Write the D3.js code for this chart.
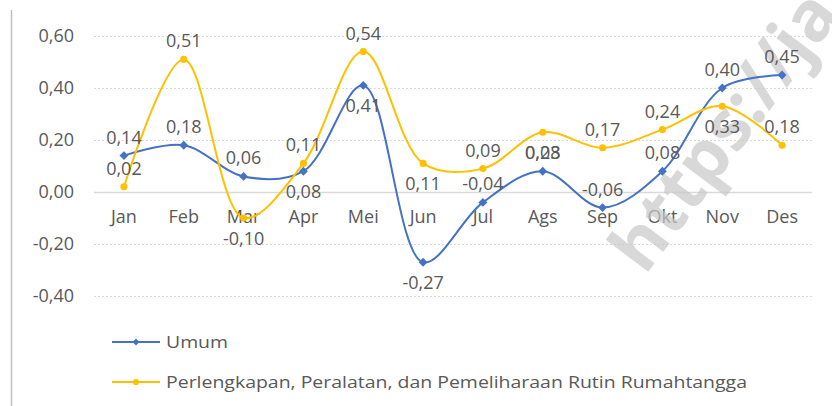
<!DOCTYPE html>
<html>
<head>
  <meta charset="utf-8">
  <title>Inflasi Bulanan</title>
<style type="text/css">
body {
  margin: 0;
  background: #fff;
  font-family: "Open Sans", sans-serif;
}

.axis text,
.label {
  font-size: 18px;
  fill: #595959;
}

.grid line {
  stroke: #d9d9d9;
  stroke-width: 1px;
  stroke-dasharray: 2,2;
}

.legend text {
  font-size: 17px;
  fill: #595959;
}

.watermark {
  font-family: "Open Sans", sans-serif;
  font-weight: bold;
  font-size: 70px;
  fill: #c8c8c8;
  fill-opacity: 0.7;
}
</style>
</head>
<body>
<script src="https://cdn.jsdelivr.net/npm/d3@7"></script>
<script>
var months = ["Jan", "Feb", "Mar", "Apr", "Mei", "Jun", "Jul", "Ags", "Sep", "Okt", "Nov", "Des"];
var umum = [0.14, 0.18, 0.06, 0.08, 0.41, -0.27, -0.04, 0.08, -0.06, 0.08, 0.40, 0.45];
var perlengkapan = [0.02, 0.51, -0.10, 0.11, 0.54, 0.11, 0.09, 0.23, 0.17, 0.24, 0.33, 0.18];
var yTicks = [-0.4, -0.2, 0, 0.2, 0.4, 0.6];
var seriesNames = ["Umum", "Perlengkapan, Peralatan, dan Pemeliharaan Rutin Rumahtangga"];
// label above (a) or below (b) the point, as in the original
var umumLabelPos = ["a", "a", "a", "b", "b", "b", "a", "a", "a", "a", "a", "a"];
var perlLabelPos = ["a", "a", "b", "a", "a", "b", "a", "b", "a", "a", "b", "a"];

var width = 832, height = 406;

var svg = d3.select("body").append("svg")
  .attr("width", width)
  .attr("height", height);

var x = d3.scaleBand()
  .domain(months)
  .range([94, 812]);

var y = d3.scaleLinear()
  .domain([-0.4, 0.6])
  .range([296, 36]);

var fmt = function(v) { return d3.format(".2f")(v).replace(".", ",").replace("−", "-"); };

// left border of the chart area
svg.append("line")
  .attr("x1", 11.5).attr("x2", 11.5)
  .attr("y1", 10).attr("y2", height)
  .style("stroke", "#bfbfbf")
  .style("stroke-width", 1.5);

// gridlines
svg.append("g")
  .attr("class", "grid")
  .selectAll("line")
  .data(yTicks.filter(function(d) { return d !== 0; }))
  .enter().append("line")
    .attr("x1", 94).attr("x2", 812)
    .attr("y1", function(d) { return Math.round(y(d)) + 0.5; })
    .attr("y2", function(d) { return Math.round(y(d)) + 0.5; });

// zero line
svg.append("line")
  .attr("x1", 94).attr("x2", 812)
  .attr("y1", Math.round(y(0)) + 0.5).attr("y2", Math.round(y(0)) + 0.5)
  .style("stroke", "#d9d9d9")
  .style("stroke-width", 1.5);

// y axis labels
var yAxis = d3.axisLeft(y)
  .tickValues(yTicks)
  .tickFormat(fmt)
  .tickSize(0)
  .tickPadding(0);

svg.append("g")
  .attr("class", "axis")
  .attr("transform", "translate(74,0)")
  .call(yAxis)
  .call(function(g) { g.select(".domain").remove(); })
  .selectAll("text")
    .style("font-family", "Open Sans");

// month labels sit just under the zero line
var xAxis = d3.axisBottom(x)
  .tickSize(0)
  .tickPadding(18);

svg.append("g")
  .attr("class", "axis")
  .attr("transform", "translate(0," + y(0) + ")")
  .call(xAxis)
  .call(function(g) { g.select(".domain").remove(); })
  .selectAll("text")
    .style("font-family", "Open Sans");

// watermark
svg.append("text")
  .attr("class", "watermark")
  .attr("transform", "translate(645,276) rotate(-53)")
  .text("https://jakarta.bps.go.id");

var line = d3.line()
  .x(function(d, i) { return x(months[i]) + x.bandwidth() / 2; })
  .y(function(d) { return y(d); })
  .curve(d3.curveCatmullRom.alpha(0.5));

var series = [
  { name: seriesNames[0], values: umum, pos: umumLabelPos, color: "#4472c4", marker: d3.symbolDiamond2 },
  { name: seriesNames[1], values: perlengkapan, pos: perlLabelPos, color: "#ffc000", marker: d3.symbolCircle }
];

series.forEach(function(s) {
  svg.append("path")
    .datum(s.values)
    .attr("d", line)
    .style("fill", "none")
    .style("stroke", s.color)
    .style("stroke-width", 2);

  svg.append("g")
    .selectAll("path")
    .data(s.values)
    .enter().append("path")
      .attr("d", d3.symbol().type(s.marker).size(s.marker === d3.symbolCircle ? 40 : 50))
      .attr("transform", function(d, i) {
        return "translate(" + (x(months[i]) + x.bandwidth() / 2) + "," + y(d) + ")";
      })
      .style("fill", s.color);
});

series.forEach(function(s) {
  svg.append("g")
    .selectAll("text")
    .data(s.values)
    .enter().append("text")
      .attr("class", "label")
      .attr("x", function(d, i) { return x(months[i]) + x.bandwidth() / 2; })
      .attr("y", function(d, i) { return y(d) + (s.pos[i] === "a" ? -12 : 27); })
      .attr("text-anchor", "middle")
      .text(function(d) { return fmt(d); });
});

// legend
var legend = svg.selectAll(".legend")
  .data(series)
  .enter().append("g")
    .attr("class", "legend")
    .attr("transform", function(d, i) { return "translate(112," + (342 + i * 40) + ")"; });

legend.append("line")
  .attr("x1", 0).attr("x2", 48)
  .style("stroke", function(d) { return d.color; })
  .style("stroke-width", 2);

legend.append("path")
  .attr("d", function(d) { return d3.symbol().type(d.marker).size(30)(); })
  .attr("transform", "translate(24,0)")
  .style("fill", function(d) { return d.color; });

legend.append("text")
  .attr("x", 54)
  .attr("dy", "0.35em")
  .attr("textLength", function(d, i) { return i === 0 ? 62 : 581; })
  .attr("lengthAdjust", "spacingAndGlyphs")
  .text(function(d) { return d.name; });
</script>
</body>
</html>
